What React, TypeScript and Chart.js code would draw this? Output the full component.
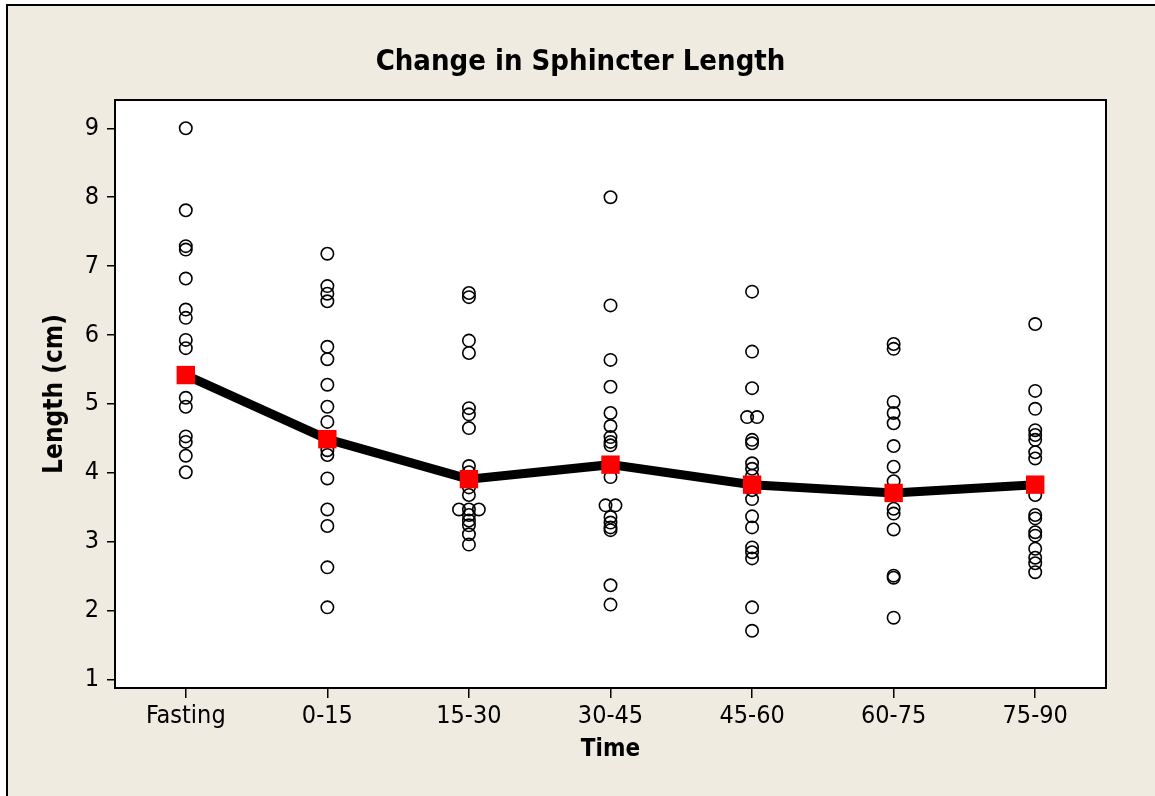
import React, { useEffect, useRef } from "react";
import { Chart, registerables } from "chart.js";

Chart.register(...registerables);

const categories = ["Fasting", "0-15", "15-30", "30-45", "45-60", "60-75", "75-90"];

const fasting = [9.0, 7.81, 7.29, 7.24, 6.82, 6.37, 6.25, 5.93, 5.81, 5.45, 5.4, 5.09, 4.96, 4.53, 4.45, 4.25, 4.01];
const t0_15 = [7.18, 6.71, 6.6, 6.49, 5.83, 5.65, 5.28, 4.96, 4.74, 4.33, 4.26, 3.92, 3.47, 3.23, 2.63, 2.05];
const t15_30 = [6.61, 6.55, 5.92, 5.74, 4.94, 4.85, 4.65, 4.1, 4.01, 3.79, 3.68, 3.47, 3.47, 3.47, 3.39, 3.31, 3.24, 3.11, 2.96];
const t30_45 = [8.0, 6.43, 5.64, 5.25, 4.87, 4.68, 4.52, 4.45, 4.4, 3.94, 3.53, 3.53, 3.36, 3.28, 3.21, 3.17, 2.37, 2.09];
const t45_60 = [6.63, 5.76, 5.23, 4.81, 4.81, 4.48, 4.43, 4.14, 4.06, 3.96, 3.75, 3.62, 3.37, 3.21, 2.92, 2.85, 2.76, 2.05, 1.71];
const t60_75 = [5.87, 5.8, 5.03, 4.87, 4.72, 4.39, 4.09, 3.88, 3.48, 3.41, 3.18, 2.51, 2.48, 1.9];
const t75_90 = [6.16, 5.19, 4.93, 4.62, 4.55, 4.48, 4.3, 4.21, 3.68, 3.39, 3.34, 3.14, 3.09, 2.9, 2.77, 2.69, 2.56];

const groups = [fasting, t0_15, t15_30, t30_45, t45_60, t60_75, t75_90];
const means = [5.42, 4.49, 3.91, 4.12, 3.83, 3.71, 3.83];
const yTicks = [1, 2, 3, 4, 5, 6, 7, 8, 9];

const FONT = "'DejaVu Sans Condensed', 'Liberation Sans', 'DejaVu Sans', sans-serif";

// dodge exactly tied values side by side (as an individual value plot does)
function buildPoints() {
  const pts: { x: number; y: number }[] = [];
  groups.forEach((vals, gi) => {
    const counts: Record<string, number> = {};
    vals.forEach((v) => (counts[v] = (counts[v] || 0) + 1));
    const seen: Record<string, number> = {};
    vals.forEach((v) => {
      const n = counts[v];
      const k = seen[v] || 0;
      seen[v] = k + 1;
      const step = n > 1 ? 0.07 : 0;
      pts.push({ x: gi + (k - (n - 1) / 2) * step, y: v });
    });
  });
  return pts;
}

const plotAreaPlugin = {
  id: "plotArea",
  beforeDatasetsDraw(chart: any) {
    const { ctx, chartArea: a } = chart;
    ctx.save();
    ctx.fillStyle = "#ffffff";
    ctx.fillRect(a.left, a.top, a.right - a.left, a.bottom - a.top);
    ctx.restore();
  },
  afterDraw(chart: any) {
    const { ctx, chartArea: a } = chart;
    ctx.save();
    ctx.strokeStyle = "#000";
    ctx.lineWidth = 2;
    ctx.strokeRect(a.left, a.top, a.right - a.left, a.bottom - a.top);
    ctx.restore();
  },
};

export default function App() {
  const ref = useRef<HTMLCanvasElement>(null);

  useEffect(() => {
    document.body.style.margin = "0";
    const chart = new Chart(ref.current as HTMLCanvasElement, {
      type: "scatter",
      data: {
        datasets: [
          {
            type: "line",
            label: "Mean",
            data: means.map((m, i) => ({ x: i, y: m })),
            borderColor: "#000",
            borderWidth: 9,
            pointStyle: "rect",
            pointRadius: 13,
            pointBackgroundColor: "#ff0000",
            pointBorderColor: "#ff0000",
            pointBorderWidth: 0,
            tension: 0,
            fill: false,
          } as any,
          {
            type: "scatter",
            label: "Length",
            data: buildPoints(),
            pointStyle: "circle",
            pointRadius: 6.2,
            pointBorderWidth: 1.6,
            pointBorderColor: "#000",
            pointBackgroundColor: "rgba(0,0,0,0)",
          } as any,
        ],
      },
      options: {
        animation: false,
        responsive: false,
        devicePixelRatio: 1,
        events: [],
        layout: { padding: { left: 6, top: 0, right: 0, bottom: 0 } },
        plugins: {
          legend: { display: false },
          tooltip: { enabled: false },
          title: {
            display: true,
            text: "Change in Sphincter Length",
            color: "#000",
            font: { family: FONT, size: 29, weight: "bold" },
            padding: { top: 45, bottom: 20.2 },
          },
        },
        scales: {
          x: {
            type: "linear",
            min: -0.5,
            max: 6.5,
            afterBuildTicks: (s: any) => {
              s.ticks = categories.map((_, i) => ({ value: i }));
            },
            afterFit: (s: any) => {
              s.height = 108;
            },
            ticks: {
              callback: (v: any) => categories[Math.round(v)],
              color: "#000",
              font: { family: FONT, size: 25 },
              padding: 3,
              autoSkip: false,
              maxRotation: 0,
            },
            grid: { drawOnChartArea: false, drawTicks: true, tickLength: 10, color: "#000", lineWidth: 1.5 },
            border: { display: false },
            title: {
              display: true,
              text: "Time",
              color: "#000",
              font: { family: FONT, size: 24, weight: "bold" },
              padding: { top: 0, bottom: 31.6 },
            },
          },
          y: {
            type: "linear",
            min: 0.88,
            max: 9.41,
            afterBuildTicks: (s: any) => {
              s.ticks = yTicks.map((v) => ({ value: v }));
            },
            afterFit: (s: any) => {
              s.width = 109;
            },
            ticks: {
              color: "#000",
              font: { family: FONT, size: 25 },
              padding: 8,
            },
            grid: { drawOnChartArea: false, drawTicks: true, tickLength: 8, color: "#000", lineWidth: 1.5 },
            border: { display: false },
            title: {
              display: true,
              text: "Length (cm)",
              color: "#000",
              font: { family: FONT, size: 26, weight: "bold" },
              padding: { top: 33.4, bottom: 0 },
            },
          },
          y2: {
            type: "linear",
            position: "right",
            display: true,
            afterFit: (s: any) => {
              s.width = 49;
            },
            ticks: { display: false },
            grid: { display: false, drawTicks: false },
            border: { display: false },
          },
        },
      },
      plugins: [plotAreaPlugin],
    } as any);
    return () => chart.destroy();
  }, []);

  return (
    <div style={{ position: "fixed", left: 0, top: 0, width: 1155, height: 796, overflow: "hidden", background: "#ffffff" }}>
      <div
        style={{
          position: "absolute",
          left: 6,
          top: 4,
          width: 1300,
          height: 900,
          background: "#EFEBE1",
          border: "2px solid #000",
          boxSizing: "border-box",
        }}
      />
      <canvas ref={ref} width={1155} height={796} style={{ position: "absolute", left: 0, top: 0 }} />
    </div>
  );
}
